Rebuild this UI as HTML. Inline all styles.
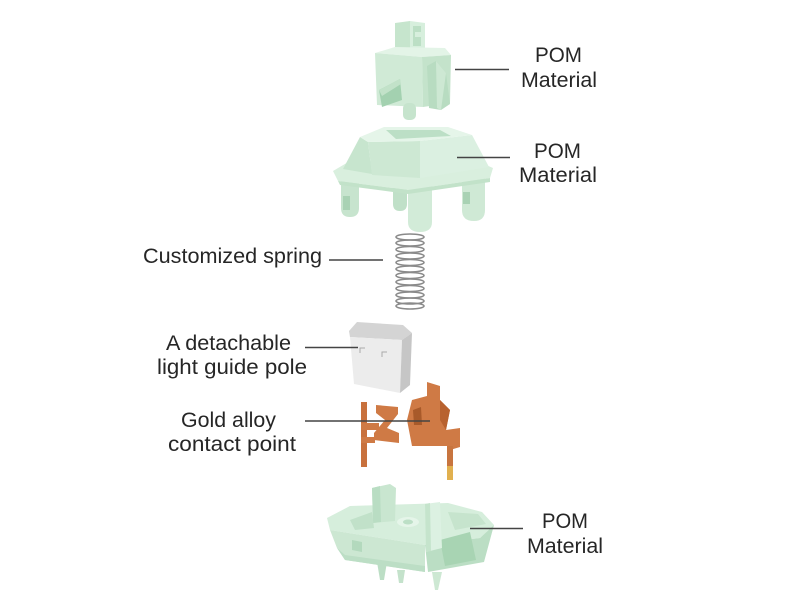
<!DOCTYPE html>
<html><head><meta charset="utf-8"><style>
html,body{margin:0;padding:0;background:#fff;}
svg{display:block;}
text{font-family:"Liberation Sans",sans-serif;fill:#262626;font-size:21px;}
</style></head><body>
<svg width="800" height="600" viewBox="0 0 800 600" xmlns="http://www.w3.org/2000/svg">
<rect width="800" height="600" fill="#fff"/>

<!-- ===== STEM ===== -->
<g>
 <polygon points="395,23 410,21 410,52 395,52" fill="#c6e5cd"/>
 <polygon points="410,21 425,23 425,50 410,52" fill="#d7efdd"/>
 <polygon points="413,26 421,26 421,46 413,46" fill="#bcdfc5"/>
 <polygon points="415,32 421,32 421,37 415,37" fill="#d7efdd"/>
 <polygon points="375,53 395,47 445,48 451,55 422,57" fill="#e3f4e7"/>
 <polygon points="375,53 422,57 423,107 377,105" fill="#d0ead6"/>
 <polygon points="422,57 451,55 450,103 423,107" fill="#c4e3cb"/>
 <polygon points="427,66 436,61 446,73 450,104 441,110 429,108" fill="#b8dcc1"/>
 <polygon points="436,61 446,73 441,110 437,108" fill="#cde8d3"/>
 <polygon points="379,90 400,79 402,100 382,107" fill="#a3d1b0"/>
 <polygon points="379,90 400,79 401,84 382,96" fill="#c2e2c9"/>
 <rect x="403" y="103" width="13" height="17" rx="5" fill="#c6e4cd"/>
</g>

<!-- ===== TOP HOUSING ===== -->
<g>
 <path d="M341,176 h18 v32 q0,9 -9,9 q-9,0 -9,-9z" fill="#c7e4ce"/>
 <path d="M343,196 h7 v14 h-7z" fill="#a9d2b4"/>
 <path d="M393,186 h14 v18 q0,7 -7,7 q-7,0 -7,-7z" fill="#c0e0c8"/>
 <path d="M408,186 h24 v36 q0,10 -12,10 q-12,0 -12,-10z" fill="#d2ebd8"/>
 <path d="M462,176 h23 v34 q0,11 -11,11 q-12,0 -12,-11z" fill="#cfe9d5"/>
 <path d="M463,192 h7 v12 h-7z" fill="#a9d2b4"/>
 <polygon points="333,171 350,161 470,158 493,168 490,178 408,190 338,181" fill="#d9efde"/>
 <polygon points="338,181 408,190 490,178 490,182 408,194 340,185" fill="#c2e2c9"/>
 <polygon points="360,137 368,142 372,174 343,169" fill="#c7e5ce"/>
 <polygon points="368,142 420,141 420,178 372,175" fill="#cde8d3"/>
 <polygon points="420,141 472,135 489,167 420,178" fill="#dbf0e1"/>
 <polygon points="360,137 384,127 448,127 472,135 420,141 368,142" fill="#e5f5e9"/>
 <polygon points="386,130 440,130 451,136 396,139" fill="#bcdfc6"/>
</g>

<!-- ===== SPRING ===== -->
<g fill="none" stroke="#8a8a8a" stroke-width="1.6">
 <ellipse cx="410" cy="237" rx="14" ry="3"/>
 <ellipse cx="410" cy="243" rx="14" ry="3"/>
 <ellipse cx="410" cy="249.5" rx="14" ry="3"/>
 <ellipse cx="410" cy="256" rx="14" ry="3"/>
 <ellipse cx="410" cy="262.5" rx="14" ry="3"/>
 <ellipse cx="410" cy="269" rx="14" ry="3"/>
 <ellipse cx="410" cy="275.5" rx="14" ry="3"/>
 <ellipse cx="410" cy="282" rx="14" ry="3"/>
 <ellipse cx="410" cy="288.5" rx="14" ry="3"/>
 <ellipse cx="410" cy="295" rx="14" ry="3"/>
 <ellipse cx="410" cy="301" rx="14" ry="3"/>
 <ellipse cx="410" cy="306" rx="14" ry="3"/>
</g>

<!-- ===== LIGHT GUIDE ===== -->
<g>
 <polygon points="349,331 357,322 403,325 412,333 402,340 350,337" fill="#d4d4d4"/>
 <polygon points="350,337 402,340 400,393 354,384" fill="#ececec"/>
 <polygon points="402,340 412,333 410,385 400,393" fill="#c6c6c6"/>
 <path d="M360,353 v-5 h5 M382,357 v-5 h5" stroke="#aaa" stroke-width="1" fill="none"/>
</g>

<!-- ===== CONTACTS ===== -->
<g fill="#cf7a45">
 <rect x="361" y="402" width="6" height="65" fill="#c8713d"/>
 <rect x="361" y="423" width="18" height="7"/>
 <rect x="361" y="437" width="14" height="6"/>
 <polygon points="376,405 398,407 398,414 387,428 399,433 399,443 374,440 374,433 385,420 376,413"/>
 <polygon points="427,382 440,386 440,400 450,410 446,430 460,428 460,447 450,450 449,446 412,446 407,420 412,400 427,396" />
 <polygon points="413,410 421,407 422,425 414,425" fill="#a85a2a"/>
 <polygon points="440,400 450,410 446,430 440,420" fill="#b8622f"/>
 <rect x="447" y="446" width="6" height="22" fill="#c8753f"/>
 <rect x="447" y="466" width="6" height="14" fill="#e1b04f"/>
</g>

<!-- ===== BOTTOM HOUSING ===== -->
<g>
 <!-- top plate -->
 <polygon points="327,518 350,506 448,503 482,512 494,525 480,538 425,545 330,530" fill="#d6eedc"/>
 <!-- front faces -->
 <polygon points="330,530 425,545 425,572 345,560 337,548" fill="#cce7d2"/>
 <polygon points="337,548 345,560 425,572 425,566 345,555" fill="#bcdec5"/>
 <polygon points="425,545 480,538 494,525 484,562 428,572" fill="#bbdec4"/>
 <polygon points="440,540 470,532 476,560 445,566" fill="#a8d4b3"/>
 <!-- left post -->
 <polygon points="372,488 390,484 396,488 395,521 373,523" fill="#c9e6d0"/>
 <polygon points="372,488 380,486 381,522 373,523" fill="#b9ddc3"/>
 <!-- right wall -->
 <polygon points="425,504 440,502 442,548 426,552" fill="#dcf1e2"/>
 <polygon points="425,504 430,503 431,551 426,552" fill="#c5e4cc"/>
 <!-- inner cylinder -->
 <ellipse cx="408" cy="522" rx="11" ry="5" fill="#e5f5e9"/>
 <ellipse cx="408" cy="522" rx="5" ry="2.5" fill="#bcdfc6"/>
 <!-- inner details -->
 <polygon points="350,520 372,512 374,528 355,530" fill="#c1e1c9"/>
 <polygon points="448,512 478,514 486,524 455,530" fill="#c6e4cd"/>
 <polygon points="352,540 362,542 362,552 352,550" fill="#b3d9bd"/>
 <!-- feet -->
 <polygon points="377,562 387,562 384,580 380,580" fill="#bcdec5"/>
 <polygon points="397,570 405,570 403,583 399,583" fill="#c4e2cb"/>
 <polygon points="432,572 442,572 438,590 435,590" fill="#cde8d3"/>
</g>

<!-- ===== CONNECTOR LINES ===== -->
<g stroke="#444" stroke-width="1.6">
 <line x1="455" y1="69.5" x2="509" y2="69.5"/>
 <line x1="457" y1="157.5" x2="510" y2="157.5"/>
 <line x1="329" y1="260" x2="383" y2="260"/>
 <line x1="305" y1="347.5" x2="358" y2="347.5"/>
 <line x1="305" y1="421" x2="430" y2="421"/>
 <line x1="470" y1="528.5" x2="523" y2="528.5"/>
</g>

<!-- ===== LABELS ===== -->
<text x="535" y="62" textLength="47" lengthAdjust="spacingAndGlyphs">POM</text>
<text x="521" y="87" textLength="76" lengthAdjust="spacingAndGlyphs">Material</text>
<text x="534" y="158" textLength="47" lengthAdjust="spacingAndGlyphs">POM</text>
<text x="519" y="182" textLength="78" lengthAdjust="spacingAndGlyphs">Material</text>
<text x="143" y="263" textLength="179" lengthAdjust="spacingAndGlyphs">Customized spring</text>
<text x="166" y="350" textLength="125" lengthAdjust="spacingAndGlyphs">A detachable</text>
<text x="157" y="374" textLength="150" lengthAdjust="spacingAndGlyphs">light guide pole</text>
<text x="181" y="427" textLength="95" lengthAdjust="spacingAndGlyphs">Gold alloy</text>
<text x="168" y="451" textLength="128" lengthAdjust="spacingAndGlyphs">contact point</text>
<text x="542" y="528" textLength="46" lengthAdjust="spacingAndGlyphs">POM</text>
<text x="527" y="553" textLength="76" lengthAdjust="spacingAndGlyphs">Material</text>
</svg>
</body></html>
